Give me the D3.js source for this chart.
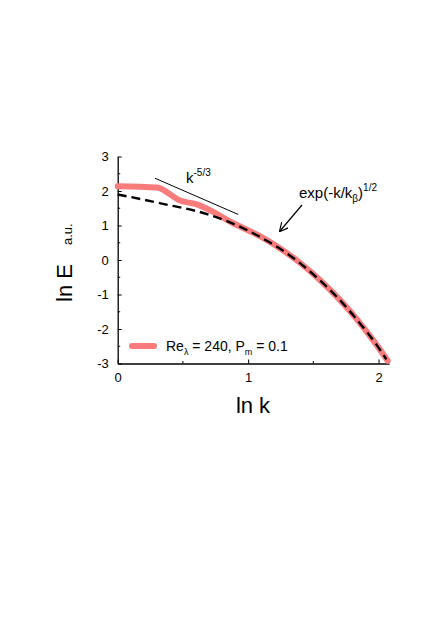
<!DOCTYPE html>
<html>
<head>
<meta charset="utf-8">
<script src="https://cdn.jsdelivr.net/npm/d3@7"></script>
<style>
  body { margin: 0; background: #fff; }
  svg { display: block; font-family: Arial, "Liberation Sans", sans-serif; }
</style>
</head>
<body>
<svg width="436" height="617"></svg>
<script>
// measured spectrum (red) and stretched-exponential fit (dashed)
const lnkData = [0, 0.30, 0.48, 0.60, 0.91, 1.09, 1.24, 1.397, 1.55, 1.70, 1.856, 1.985, 2.07];
const lnEData = [2.14, 2.10, 1.72, 1.62, 1.02, 0.69, 0.35, -0.08, -0.58, -1.14, -1.82, -2.46, -2.92];

const lnkFit = [0, 0.32, 0.71, 0.94, 1.09, 1.24, 1.397, 1.55, 1.70, 1.856, 1.985, 2.06];
const lnEFit = [1.90, 1.65, 1.30, 0.96, 0.67, 0.34, -0.09, -0.59, -1.15, -1.83, -2.46, -2.88];

// k^-5/3 guide line
const lnkGuide = [0.286, 0.924];
const lnEGuide = [2.37, 1.32];

const xTicks = [0, 1, 2];
const yTicks = [-3, -2, -1, 0, 1, 2, 3];

const red = "#f87c7c";

const svg = d3.select("svg");
const x = d3.scaleLinear().domain([0, 2.08]).range([117.7, 389]);
const y = d3.scaleLinear().domain([-3, 3]).range([363.5, 156.5]);

// axes, ticks pointing inward
const xAxis = svg.append("g").attr("transform", `translate(0,${y(-3)})`)
  .call(d3.axisBottom(x).tickValues(xTicks).tickFormat(d => String(d))
    .tickSizeInner(-4).tickSizeOuter(0).tickPadding(9));
xAxis.selectAll("text").attr("font-size", 13).attr("fill", "#000");
xAxis.append("g").selectAll("line").data([0.5, 1.5]).join("line")
  .attr("x1", d => x(d)).attr("x2", d => x(d)).attr("y1", 0).attr("y2", -2.5)
  .attr("stroke", "#000");

const yAxis = svg.append("g").attr("transform", `translate(${x(0)},0)`)
  .call(d3.axisLeft(y).tickValues(yTicks).tickFormat(d => String(d))
    .tickSizeInner(-4).tickSizeOuter(0).tickPadding(9));
yAxis.selectAll("text").attr("font-size", 13).attr("fill", "#000");
yAxis.append("g").selectAll("line").data(d3.range(-2.5, 3, 1)).join("line")
  .attr("y1", d => y(d)).attr("y2", d => y(d)).attr("x1", 0).attr("x2", 2.5)
  .attr("stroke", "#000");

svg.selectAll(".domain").attr("stroke-width", 1.3).attr("stroke", "#000");
svg.selectAll(".tick line").attr("stroke", "#000");

// curves
const lineData = d3.line().x(d => x(d[0])).y(d => y(d[1])).curve(d3.curveMonotoneX);
svg.append("path")
  .attr("d", lineData(d3.zip(lnkData, lnEData)))
  .attr("fill", "none").attr("stroke", red).attr("stroke-width", 6)
  .attr("stroke-linejoin", "round").attr("stroke-linecap", "round");

const lineFit = d3.line().x(d => x(d[0])).y(d => y(d[1])).curve(d3.curveMonotoneX);
svg.append("path")
  .attr("d", lineFit(d3.zip(lnkFit, lnEFit)))
  .attr("fill", "none").attr("stroke", "#000").attr("stroke-width", 2.4)
  .attr("stroke-dasharray", "9,5");

svg.append("line")
  .attr("x1", x(lnkGuide[0])).attr("y1", y(lnEGuide[0]))
  .attr("x2", x(lnkGuide[1])).attr("y2", y(lnEGuide[1]))
  .attr("stroke", "#000").attr("stroke-width", 1);

// annotations
const kt = svg.append("text").attr("x", 186).attr("y", 183).attr("font-size", 15);
kt.append("tspan").text("k");
kt.append("tspan").attr("font-size", 10).attr("dy", -7).text("-5/3");

const et = svg.append("text").attr("x", 299).attr("y", 198).attr("font-size", 15);
et.append("tspan").text("exp(-k/k");
et.append("tspan").attr("font-size", 10).attr("dy", 4).text("β");
et.append("tspan").attr("dy", -4).text(")");
et.append("tspan").attr("font-size", 10).attr("dy", -7).text("1/2");

svg.append("defs").append("marker").attr("id", "ah")
  .attr("viewBox", "0 0 10 10").attr("refX", 9).attr("refY", 5)
  .attr("markerWidth", 9).attr("markerHeight", 9).attr("markerUnits", "userSpaceOnUse")
  .attr("orient", "auto")
  .append("path").attr("d", "M0,0 L10,5 L0,10").attr("fill", "none")
  .attr("stroke", "#000").attr("stroke-width", 1.3);
svg.append("line").attr("x1", 302).attr("y1", 205).attr("x2", 280).attr("y2", 231)
  .attr("stroke", "#000").attr("stroke-width", 1.2).attr("marker-end", "url(#ah)");

// legend
svg.append("line").attr("x1", 132).attr("x2", 154).attr("y1", 346).attr("y2", 346)
  .attr("stroke", red).attr("stroke-width", 6).attr("stroke-linecap", "round");
const lt = svg.append("text").attr("x", 166).attr("y", 351).attr("font-size", 14);
lt.append("tspan").text("Re");
lt.append("tspan").attr("font-size", 9).attr("dy", 4).text("λ");
lt.append("tspan").attr("dy", -4).text(" = 240, P");
lt.append("tspan").attr("font-size", 9).attr("dy", 4).text("m");
lt.append("tspan").attr("dy", -4).text(" = 0.1");

// axis titles
svg.append("text").attr("x", 253).attr("y", 413).attr("text-anchor", "middle")
  .attr("font-size", 22).text("ln k");
svg.append("text").attr("transform", "translate(72,302) rotate(-90)")
  .attr("font-size", 22).text("ln E");
svg.append("text").attr("transform", "translate(72,245) rotate(-90)")
  .attr("font-size", 13).text("a.u.");
</script>
</body>
</html>
